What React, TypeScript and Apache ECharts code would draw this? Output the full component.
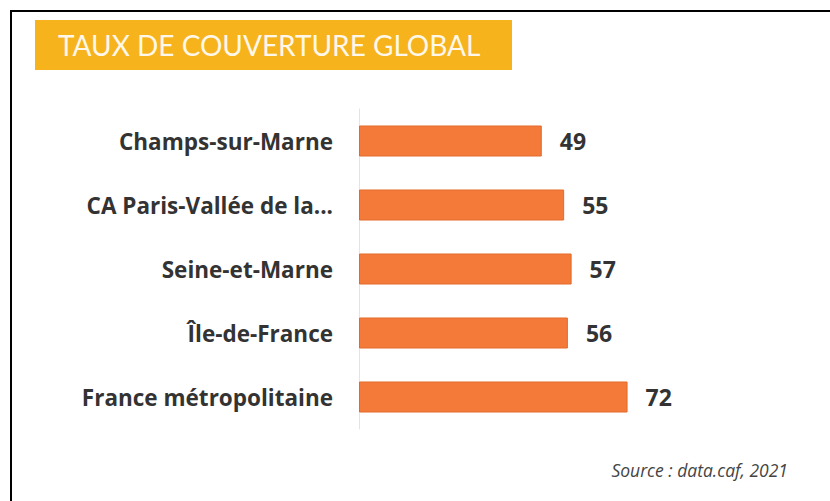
import React, { useEffect, useRef } from "react";
import * as echarts from "echarts";

const categories = [
  "Champs-sur-Marne",
  "CA Paris-Vallée de la...",
  "Seine-et-Marne",
  "Île-de-France",
  "France métropolitaine",
];
const values = [49, 55, 57, 56, 72];
const titleText = "TAUX DE COUVERTURE GLOBAL";
const sourceText = "Source : data.caf, 2021";

export default function App() {
  const ref = useRef<HTMLDivElement>(null);
  useEffect(() => {
    if (!ref.current) return;
    const chart = echarts.init(ref.current, null, { renderer: "svg" });
    chart.setOption({
      animation: false,
      backgroundColor: "#ffffff",
      grid: { left: 359, top: 109, width: 373, height: 320, containLabel: false },
      xAxis: {
        type: "value",
        min: 0,
        max: 100,
        show: false,
      },
      yAxis: {
        type: "category",
        data: categories,
        inverse: true,
        axisLine: { show: true, lineStyle: { color: "#e4e4e4", width: 1 } },
        axisTick: { show: false },
        axisLabel: {
          margin: 26,
          fontFamily: "Open Sans",
          fontWeight: "bold",
          fontSize: 22.5,
          color: "#333333",
        },
      },
      series: [
        {
          type: "bar",
          data: values,
          barWidth: 31,
          itemStyle: { color: "#F47A39", borderColor: "#E26A2C", borderWidth: 1 },
          label: {
            show: true,
            position: "right",
            distance: 18,
            fontFamily: "Open Sans",
            fontWeight: "bold",
            fontSize: 23,
            color: "#333333",
          },
        },
      ],
      graphic: [
        { type: "line", shape: { x1: 10, y1: 11, x2: 830, y2: 11 }, style: { stroke: "#000", lineWidth: 2 } },
        { type: "line", shape: { x1: 11, y1: 10, x2: 11, y2: 501 }, style: { stroke: "#000", lineWidth: 2 } },
        { type: "rect", shape: { x: 35, y: 20, width: 477, height: 50 }, style: { fill: "#F6B31C" } },
        {
          type: "text",
          x: 58,
          y: 45,
          style: {
            text: titleText,
            fill: "#FFF8EA",
            font: "normal 28px Lato",
            textVerticalAlign: "middle",
          },
        },
        {
          type: "text",
          x: 788,
          y: 470,
          style: {
            text: sourceText,
            fill: "#444444",
            font: "italic 17.5px 'Open Sans'",
            textAlign: "right",
            textVerticalAlign: "middle",
          },
        },
      ],
    });
    return () => chart.dispose();
  }, []);
  return (
    <div
      ref={ref}
      style={{ position: "fixed", left: 0, top: 0, width: 830, height: 501 }}
    />
  );
}
